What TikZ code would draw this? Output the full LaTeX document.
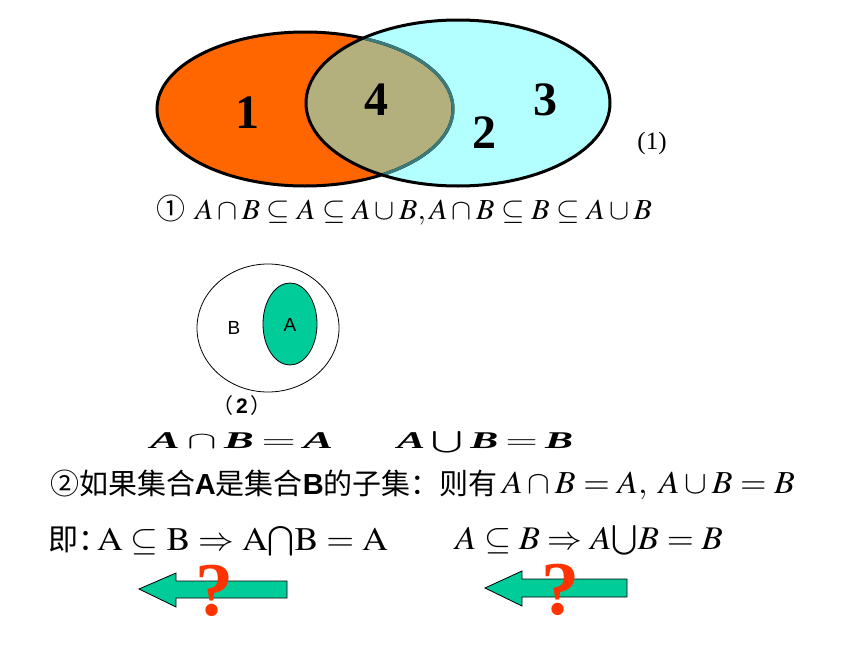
\documentclass[tikz,border=0pt]{standalone}
\usepackage{mathptmx}
\usepackage[no-math]{fontspec}
\setmainfont{Liberation Serif}
\setsansfont{Liberation Sans}
\newfontfamily\cjk{Noto Sans CJK SC}
\definecolor{vorange}{HTML}{FF6600}
\definecolor{vcyan}{HTML}{B3FFFF}
\definecolor{volive}{HTML}{B3B07D}
\definecolor{vteal}{HTML}{3A7B7B}
\definecolor{agreen}{HTML}{00CC99}
\definecolor{qred}{HTML}{FF3300}
\tikzset{
  txt/.style={inner sep=0pt, outer sep=0pt},
  basetxt/.style={txt, anchor=base west},
  bignum/.style={txt, font=\fontsize{48}{48}\selectfont\bfseries},
  arrowshape/.style={fill=agreen, draw=black, line width=0.8pt, line join=miter},
  qmark/.style={txt, text=qred, font=\fontsize{76}{76}\selectfont\bfseries},
  vline/.style={line width=3pt}
}
\begin{document}
\begin{tikzpicture}[x=1pt,y=-1pt]
\path[use as bounding box, fill=white] (0,0) rectangle (860,645);
% Venn diagram (1)
\fill[vorange] (305,109) ellipse [x radius=148pt, y radius=77pt];
\fill[vcyan] (458,103) ellipse [x radius=152pt, y radius=83pt];
\begin{scope}
  \clip (305,109) ellipse [x radius=148pt, y radius=77pt];
  \fill[volive] (458,103) ellipse [x radius=152pt, y radius=83pt];
\end{scope}
\draw[vline] (305,109) ellipse [x radius=148pt, y radius=77pt];
\begin{scope}
  \clip (458,103) ellipse [x radius=152pt, y radius=83pt];
  \draw[vline, vteal] (305,109) ellipse [x radius=148pt, y radius=77pt];
\end{scope}
\draw[vline] (458,103) ellipse [x radius=152pt, y radius=83pt];
\node[bignum] (n1) at (247,113) {1};
\node[bignum] (n4) at (376,100) {4};
\node[bignum] (n2) at (484,133) {2};
\node[bignum] (n3) at (545,100) {3};
\node[txt, font=\fontsize{25}{25}\selectfont] (l1) at (652,143) {(1)};
\node[basetxt, font=\fontsize{29}{29}\selectfont] (c1) at (156,219) {\cjk ①};
\node[basetxt, font=\fontsize{29}{29}\selectfont] (f1) at (195,219)
  {\resizebox{457pt}{\height}{$A\cap B\subseteq A\subseteq A\cup B, A\cap B\subseteq B\subseteq A\cup B$}};
% diagram (2)
\draw[line width=0.8pt] (268,328) ellipse [x radius=71pt, y radius=64pt];
\draw[fill=agreen, line width=0.8pt] (290,324) ellipse [x radius=27pt, y radius=41pt];
\node[txt, font=\sffamily\fontsize{19}{19}\selectfont] (lb) at (234,328) {B};
\node[txt, font=\sffamily\fontsize{19}{19}\selectfont] (la) at (290,325) {A};
\node[txt, font=\fontsize{21}{21}\selectfont] (l2) at (242,406) {{\cjk （}\hspace{3pt}{\sffamily\bfseries 2}\hspace{3pt}{\cjk ）}};
% bold line
\node[basetxt, font=\fontsize{24}{24}\selectfont] (b1) at (150,448)
  {\resizebox{183pt}{\height}{\textbf{\textit{A}}\,$\cap$\,\textbf{\textit{B}}\,$=$\,\textbf{\textit{A}}}};
\node[basetxt, font=\fontsize{24}{24}\selectfont] (b2) at (397,448)
  {\resizebox{176pt}{\height}{\textbf{\textit{A}}\,${\textstyle\bigcup}$\,\textbf{\textit{B}}\,$=$\,\textbf{\textit{B}}}};
% line 2
\node[basetxt, font=\fontsize{29}{29}\selectfont] (s2) at (50,494)
  {{\cjk ②如果集合}{\sffamily\bfseries A}{\cjk 是集合}{\sffamily\bfseries B}{\cjk 的子集：则有}};
\node[basetxt, font=\fontsize{32}{32}\selectfont] (m2) at (502,493)
  {\resizebox{293pt}{\height}{$A\cap B=A,\;A\cup B=B$}};
% line 3
\node[basetxt, font=\fontsize{30}{30}\selectfont] (s3) at (48,550) {\cjk 即：};
\node[basetxt, font=\fontsize{33}{33}\selectfont] (m3) at (97,550)
  {\resizebox{291pt}{\height}{$\mathrm{A}\subseteq\mathrm{B}\Rightarrow\mathrm{A}{\textstyle\bigcap}\mathrm{B}=\mathrm{A}$}};
\node[basetxt, font=\fontsize{33}{33}\selectfont] (s4) at (455,549)
  {\resizebox{268pt}{\height}{$A\subseteq B\Rightarrow A{\textstyle\bigcup}B=B$}};
% arrows
\draw[arrowshape] (139,589) -- (176,573) -- (176,581) -- (287,581) -- (287,598) -- (176,598) -- (176,607) -- cycle;
\draw[arrowshape] (485,588) -- (522,571) -- (522,579) -- (627,579) -- (627,597) -- (522,597) -- (522,606) -- cycle;
\node[qmark] (q1) at (214,591) {?};
\node[qmark] (q2) at (560,590) {?};
\end{tikzpicture}
\end{document}
